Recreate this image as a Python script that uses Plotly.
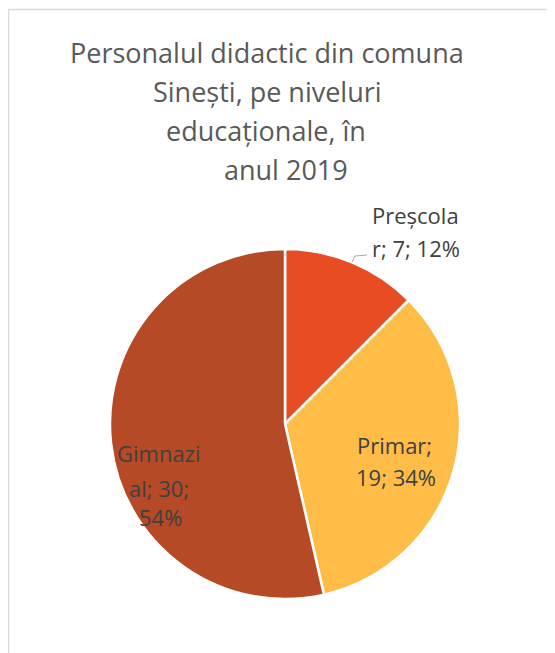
import plotly.graph_objects as go

# ---- data ----
categories = ["Preșcolar", "Primar", "Gimnazial"]
values = [7, 19, 30]
percents = [12, 34, 54]
colors = ["#E84C22", "#FFBD47", "#B64926"]
title_lines = ["Personalul didactic din comuna", "Sinești, pe niveluri", "educaționale, în", "anul 2019"]

W, H = 555, 653
OFF = 8  # page body margin

def px(x):
    return (x - OFF) / W

def py(y):
    return 1 - (y - OFF) / H

fig = go.Figure()
fig.add_trace(go.Pie(
    labels=categories, values=values, sort=False, direction="clockwise", rotation=0,
    marker=dict(colors=colors, line=dict(color="white", width=2.5)),
    textinfo="none", hoverinfo="label+value+percent", showlegend=False,
    domain=dict(x=[px(110), px(460)], y=[py(599), py(249)]),
))

annotations = []
# title lines
title_pos = [(266.5, 52), (267, 92), (266, 131), (286, 169)]
for line, (x, y) in zip(title_lines, title_pos):
    annotations.append(dict(text=line, x=px(x), y=py(y), xref="paper", yref="paper",
                            xanchor="center", yanchor="middle", showarrow=False,
                            font=dict(family="Segoe UI, Open Sans, sans-serif", size=27, color="#595959")))

# data labels "Category; value; pct%" wrapped like the original
full = [f"{c}; {v}; {p}%" for c, v, p in zip(categories, values, percents)]
breaks = [[8], [7], [7, 15]]
label_pos = [[(415.5, 215), (416, 248)], [(394, 445), (396, 477)], [(159, 453), (159, 488), (160, 517)]]
for s, br, pos in zip(full, breaks, label_pos):
    idx = [0] + br + [len(s)]
    lines = [s[idx[i]:idx[i + 1]].strip() for i in range(len(idx) - 1)]
    for line, (x, y) in zip(lines, pos):
        annotations.append(dict(text=line, x=px(x), y=py(y), xref="paper", yref="paper",
                                xanchor="center", yanchor="middle", showarrow=False,
                                font=dict(family="Segoe UI, Open Sans, sans-serif", size=22, color="#404040")))

shapes = [
    # chart frame (left and top edges visible)
    dict(type="line", xref="paper", yref="paper", x0=px(8.5), x1=px(8.5), y0=0, y1=py(9.5),
         line=dict(color="#D9D9D9", width=1.5)),
    dict(type="line", xref="paper", yref="paper", x0=px(8.5), x1=1, y0=py(9.5), y1=py(9.5),
         line=dict(color="#D9D9D9", width=1.5)),
    # leader line for Preșcolar label
    dict(type="path", xref="paper", yref="paper",
         path=f"M {px(352)} {py(262)} L {px(355)} {py(256)} L {px(367)} {py(255)}",
         line=dict(color="#A6A6A6", width=1)),
]

fig.update_layout(width=W, height=H, margin=dict(l=0, r=0, t=0, b=0),
                  paper_bgcolor="white", plot_bgcolor="white",
                  annotations=annotations, shapes=shapes)
fig.write_html("out.html")
